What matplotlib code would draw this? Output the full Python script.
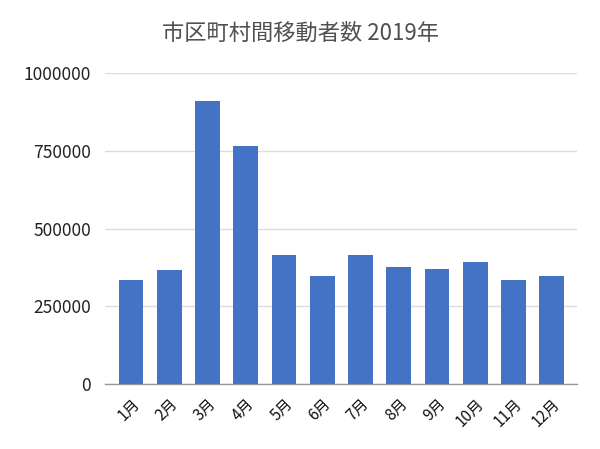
import matplotlib
matplotlib.use("Agg")
import matplotlib.pyplot as plt

plt.rcParams['font.family'] = ['Noto Sans CJK JP', 'DejaVu Sans']

# data
months = ['1月', '2月', '3月', '4月', '5月', '6月', '7月', '8月', '9月', '10月', '11月', '12月']
movers = [334000, 367000, 908000, 765000, 416000, 348500,
          416000, 376000, 370000, 391500, 334000, 348500]
y_ticks = [0, 250000, 500000, 750000, 1000000]

fig = plt.figure(figsize=(6, 4.49), dpi=100)
ax = fig.add_axes([105 / 600, 1 - 384.3 / 449, 472 / 600, 311.6 / 449])

x = list(range(len(months)))
ax.bar(x, movers, width=0.65, color='#4472c4', zorder=3)

ax.set_ylim(0, 1000000)
ax.set_xlim(-0.68, 11.66)
ax.set_yticks(y_ticks)
ax.set_yticklabels([str(v) for v in y_ticks], fontsize=12.5, color='#222222')
ax.set_xticks(x)
ax.set_xticklabels(months, rotation=45, ha='right', rotation_mode='anchor',
                   fontsize=11, color='#111111')
ax.tick_params(axis='both', length=0)
ax.tick_params(axis='y', pad=10)
ax.tick_params(axis='x', pad=8)

ax.grid(axis='y', color='#dddddd', linewidth=1, zorder=0)
for side in ['top', 'right', 'left']:
    ax.spines[side].set_visible(False)
ax.spines['bottom'].set_color('#999999')
ax.spines['bottom'].set_linewidth(1)

fig.text(0.5, 1 - 33 / 449, '市区町村間移動者数 2019年', ha='center', va='center',
         fontsize=16, color='#505050')

fig.savefig('out.png', dpi=100, facecolor='white')
